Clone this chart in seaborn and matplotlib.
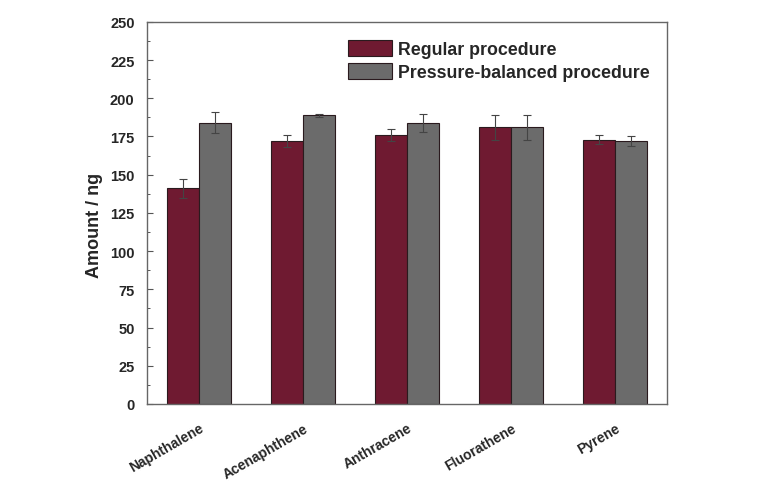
import matplotlib
matplotlib.use("Agg")
import matplotlib.pyplot as plt
import seaborn as sns
import pandas as pd
from matplotlib.ticker import MultipleLocator

compounds = ["Naphthalene", "Acenaphthene", "Anthracene", "Fluorathene", "Pyrene"]
regular = [141, 172, 176, 181, 173]
regular_err = [6, 4, 4, 8, 3]
balanced = [184, 189, 184, 181, 172]
balanced_err = [7, 1, 6, 8, 3]
procedures = ["Regular procedure", "Pressure-balanced procedure"]
colors = ["#6f1a31", "#6b6b6b"]

df = pd.DataFrame({
    "compound": compounds * 2,
    "amount": regular + balanced,
    "err": regular_err + balanced_err,
    "procedure": [procedures[0]] * 5 + [procedures[1]] * 5,
})

sns.set_style("white")
plt.rcParams["font.family"] = ["Liberation Sans", "DejaVu Sans"]
plt.rcParams["font.weight"] = "bold"

fig = plt.figure(figsize=(7.58, 4.85), dpi=100)
ax = fig.add_axes([0.194, 0.165, 0.686, 0.788])

sns.barplot(data=df, x="compound", y="amount", hue="procedure",
            hue_order=procedures, palette=colors, width=0.62, gap=0,
            errorbar=None, edgecolor="#2a1a1e", linewidth=0.8,
            saturation=1, ax=ax)

# error bars at the centre of each drawn bar
for container, proc in zip(ax.containers, procedures):
    sub = df[df["procedure"] == proc]
    xs = [p.get_x() + p.get_width() / 2 for p in container.patches]
    ax.errorbar(xs, sub["amount"].values, yerr=sub["err"].values, fmt="none",
                ecolor="#444444", elinewidth=0.8, capsize=3, capthick=0.8)

ax.set_ylim(0, 250)
ax.set_xlim(-0.5, 4.5)
ax.yaxis.set_major_locator(MultipleLocator(25))
ax.yaxis.set_minor_locator(MultipleLocator(12.5))
ax.tick_params(axis="y", which="major", direction="in", length=4, width=0.8,
               color="#555555", labelsize=10.5, left=True, pad=9)
ax.tick_params(axis="y", which="minor", direction="in", length=2, width=0.7,
               color="#555555", left=True)
ax.tick_params(axis="x", length=0, labelsize=10, pad=12)
for lbl in ax.get_xticklabels():
    lbl.set_rotation(30)
    lbl.set_ha("right")
    lbl.set_rotation_mode("anchor")
    lbl.set_fontweight("bold")
for lbl in ax.get_yticklabels():
    lbl.set_fontweight("bold")

for sp in ax.spines.values():
    sp.set_visible(True)
    sp.set_color("#666666")
    sp.set_linewidth(1.0)

ax.set_xlabel("")
ax.set_ylabel("Amount / ng", fontsize=13, fontweight="bold")
ax.yaxis.set_label_coords(-0.085, 0.47)

ax.legend(loc="upper left", bbox_to_anchor=(0.372, 0.971), frameon=False,
          prop={"size": 12.8, "weight": "bold"}, handlelength=2.5,
          handleheight=1.0, handletextpad=0.35, labelspacing=0.3,
          borderaxespad=0)

fig.savefig("out.png", dpi=100)
